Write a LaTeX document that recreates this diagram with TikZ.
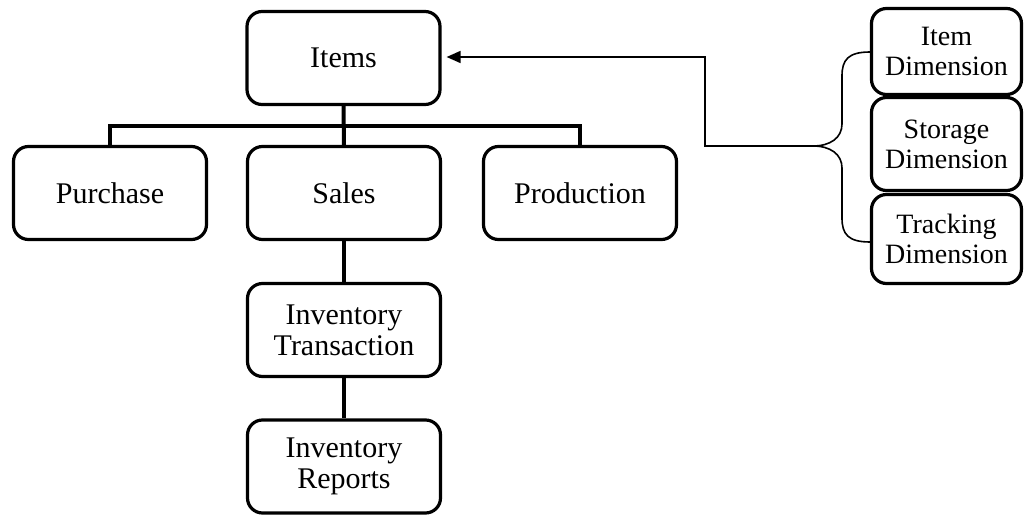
\documentclass[tikz,border=0pt]{standalone}
\usepackage{fontspec}
\setmainfont{Liberation Serif}
\usetikzlibrary{arrows.meta}
\begin{document}
\begin{tikzpicture}[x=0.5pt,y=-0.5pt,
  box/.style={draw,line width=1.6pt,rounded corners=7.5pt,align=center,inner sep=0pt,
    font=\fontsize{15}{15.5}\selectfont},
  mainbox/.style={box,minimum width=96.5pt,minimum height=46.5pt},
  dimbox/.style={box,minimum width=75pt,font=\fontsize{14}{15}\selectfont},
  tree/.style={line width=2pt},
  thin/.style={line width=0.8pt}]
\useasboundingbox (0,0) rectangle (1025,519);
\node[mainbox] (items) at (343.5,58) {Items};
\node[mainbox] (purchase) at (110,193) {Purchase};
\node[mainbox] (sales) at (344,193) {Sales};
\node[mainbox] (production) at (580,193) {Production};
\node[mainbox] (trans) at (344,330) {Inventory\\Transaction};
\node[mainbox] (reports) at (344,466.5) {Inventory\\Reports};
\node[dimbox,minimum height=43pt] (idim) at (946.5,51.5) {Item\\Dimension};
\node[dimbox,minimum height=46.5pt] (sdim) at (946.5,144) {Storage\\Dimension};
\node[dimbox,minimum height=44.5pt] (tdim) at (946.5,239) {Tracking\\Dimension};
\coordinate (bar) at (343.5,126);
\draw[tree] (items.south) -- (sales.north);
\draw[tree] (purchase.north) |- (bar) -| (production.north);
\draw[tree] (sales.south) -- (trans.north);
\draw[tree] (trans.south) -- (reports.north);
% brace
\coordinate (tip) at (813,146);
\coordinate (btop) at (870,52);
\coordinate (bbot) at (870,242);
\draw[thin] (btop) .. controls (848,52) and (842,60) .. (842,76)
  -- (842,124) .. controls (842,138) and (830,146) .. (tip)
  .. controls (830,146) and (842,154) .. (842,168)
  -- (842,218) .. controls (842,234) and (848,242) .. (bbot);
\coordinate (turn) at (705,57);
\draw[thin,-{Stealth[length=7pt,width=6pt,inset=0pt]}] (tip) -| (turn) -- ([xshift=2.5pt]items.east |- turn);
\end{tikzpicture}
\end{document}
